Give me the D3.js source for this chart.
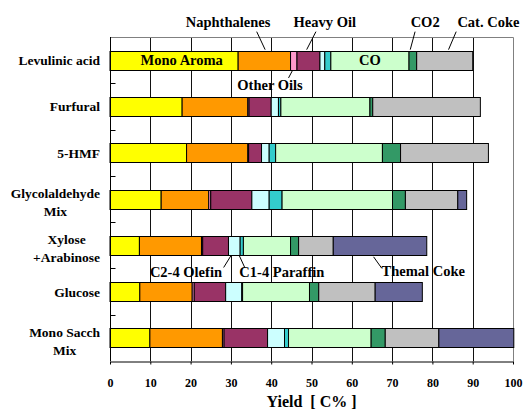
<!DOCTYPE html>
<html>
<head>
<meta charset="utf-8">
<script src="https://cdn.jsdelivr.net/npm/d3@7"></script>
<style>
  body { margin: 0; background: #fff; }
</style>
</head>
<body>
<figure style="margin:0"></figure>
<script>
const WIDTH = 526
const HEIGHT = 412
const FONT = "'Liberation Serif', 'DejaVu Serif', Tinos, 'Times New Roman', Times, serif"

// feedstocks, top to bottom
const categories = ['Levulinic acid', 'Furfural', '5-HMF', 'Glycolaldehyde\nMix', 'Xylose\n+Arabinose', 'Glucose', 'Mono Sacch\nMix']

// yields [C%] per product, one value per feedstock
const monoAroma = [31.8, 17.9, 19.0, 12.7, 7.3, 7.4, 9.9]
const naphthalenes = [13.0, 16.3, 15.2, 11.8, 15.4, 13.0, 18.0]
const otherOils = [1.6, 0.3, 0.2, 0.5, 0.3, 0.5, 0.4]
const heavyOil = [5.7, 5.5, 3.2, 10.2, 6.4, 7.8, 10.8]
const olefin = [1.2, 1.8, 1.9, 4.3, 2.9, 4.0, 4.2]
const paraffin = [1.5, 0.6, 1.6, 3.2, 0.8, 0.2, 1.0]
const co = [19.4, 22.1, 26.5, 27.4, 11.7, 16.6, 20.5]
const co2 = [1.9, 0.7, 4.5, 3.2, 2.0, 2.3, 3.5]
const catCoke = [13.9, 26.7, 21.8, 13.0, 8.6, 14.0, 13.3]
const thermalCoke = [0, 0, 0, 2.2, 23.2, 11.7, 18.6]

const xTicks = [0, 10, 20, 30, 40, 50, 60, 70, 80, 90, 100]

const products = [
  { key: 'monoAroma', values: monoAroma, color: '#ffff00' },
  { key: 'naphthalenes', values: naphthalenes, color: '#ff9900' },
  { key: 'otherOils', values: otherOils, color: '#ff99cc' },
  { key: 'heavyOil', values: heavyOil, color: '#993366' },
  { key: 'olefin', values: olefin, color: '#ccffff' },
  { key: 'paraffin', values: paraffin, color: '#33cccc' },
  { key: 'co', values: co, color: '#ccffcc' },
  { key: 'co2', values: co2, color: '#339966' },
  { key: 'catCoke', values: catCoke, color: '#c0c0c0' },
  { key: 'thermalCoke', values: thermalCoke, color: '#666699' }
]

// annotations: x in yield units, row = category index, dy = px offset from row centre
const notes = [
  { text: 'Naphthalenes', x: 29.3, row: 0, dy: -33, anchor: 'middle' },
  { text: 'Heavy Oil', x: 53.3, row: 0, dy: -33, anchor: 'middle' },
  { text: 'CO2', x: 78.2, row: 0, dy: -33, anchor: 'middle' },
  { text: 'Cat. Coke', x: 93.9, row: 0, dy: -33, anchor: 'middle' },
  { text: 'Mono Aroma', x: 17.8, row: 0, dy: 5, anchor: 'middle' },
  { text: 'CO', x: 64.5, row: 0, dy: 5, anchor: 'middle' },
  { text: 'Other Oils', x: 39.7, row: 0, dy: 30, anchor: 'middle' },
  { text: 'C2-4 Olefin', x: 9.9, row: 4, dy: 32, anchor: 'start' },
  { text: 'C1-4 Paraffin', x: 32.1, row: 4, dy: 32, anchor: 'start' },
  { text: 'Themal Coke', x: 67.4, row: 4, dy: 31, anchor: 'start' }
]
// leader lines: [x1, dy1, x2, dy2]
const leaders = [
  { row: 0, p: [36.4, -28.5, 38.5, -10.5] },
  { row: 0, p: [51.1, -28.5, 48.8, -10.5] },
  { row: 0, p: [75.7, -28.5, 74.5, -10.5] },
  { row: 0, p: [85.9, -28.5, 84.0, -10.5] },
  { row: 0, p: [45.3, 10.2, 44.3, 17.8] },
  { row: 4, p: [30.0, 10.5, 28.2, 22.2] },
  { row: 4, p: [32.1, 10.5, 33.5, 22.8] },
  { row: 4, p: [65.4, 11.5, 67.4, 22.8] }
]

const margin = { left: 110, right: 13, top: 37, bottom: 51 }

const x = d3.scaleLinear()
  .domain([0, 100])
  .range([margin.left, WIDTH - margin.right])

const y = d3.scaleBand()
  .domain(categories)
  .range([margin.top, HEIGHT - margin.bottom])
  .paddingInner(0.59)
  .paddingOuter(0.295)

const rowCenter = i => y(categories[i]) + y.bandwidth() / 2

const svg = d3.select('figure').append('svg')
  .attr('width', WIDTH)
  .attr('height', HEIGHT)
  .attr('font-family', FONT)
  .attr('font-weight', 'bold')
  .style('display', 'block')

const [y0, y1] = y.range()
const crisp = v => Math.round(v) + 0.5

// vertical gridlines
svg.append('g')
  .selectAll('line')
  .data(xTicks.filter(t => t > 0 && t < 100))
  .enter().append('line')
  .attr('x1', d => crisp(x(d)))
  .attr('x2', d => crisp(x(d)))
  .attr('y1', y0)
  .attr('y2', y1)
  .attr('stroke', '#111')

// plot frame (top / right)
svg.append('path')
  .attr('d', `M${crisp(x(0))},${crisp(y0)}H${crisp(x(100))}V${y1}`)
  .attr('fill', 'none')
  .attr('stroke', '#808080')

// stacked bars
const rows = categories.map((c, i) => {
  const r = { cat: c }
  products.forEach(p => { r[p.key] = p.values[i] })
  return r
})
const stacked = d3.stack().keys(products.map(p => p.key))(rows)

stacked.forEach((layer, k) => {
  svg.append('g')
    .attr('fill', products[k].color)
    .attr('stroke', '#000')
    .selectAll('rect')
    .data(layer.filter(d => d[1] - d[0] > 0))
    .enter().append('rect')
    .attr('x', d => x(d[0]))
    .attr('width', d => x(d[1]) - x(d[0]))
    .attr('y', d => Math.round(y(d.data.cat)) + 0.5)
    .attr('height', Math.round(y.bandwidth()))
})

// bottom axis
const xAxis = svg.append('g')
  .attr('transform', `translate(0,${crisp(y1)})`)
  .call(d3.axisBottom(x).tickValues(xTicks).tickSize(3).tickPadding(13.5).tickSizeOuter(0))
  .attr('font-family', FONT)
  .attr('font-size', 12)
xAxis.select('.domain').attr('stroke', '#000')
xAxis.selectAll('.tick line').attr('stroke', '#000')
xAxis.selectAll('text').attr('fill', '#000')

// left axis line with inward ticks at band boundaries
svg.append('line')
  .attr('x1', crisp(x(0))).attr('x2', crisp(x(0)))
  .attr('y1', y0).attr('y2', y1)
  .attr('stroke', '#000')
svg.append('g')
  .selectAll('line')
  .data(d3.range(1, categories.length))
  .enter().append('line')
  .attr('x1', crisp(x(0)))
  .attr('x2', crisp(x(0)) + 5)
  .attr('y1', d => crisp(y0 + d * y.step()))
  .attr('y2', d => crisp(y0 + d * y.step()))
  .attr('stroke', '#000')

// category labels
const catLabels = svg.append('g')
  .attr('font-size', 13.5)
  .attr('fill', '#000')
categories.forEach((c, i) => {
  const lines = c.split('\n')
  const t = catLabels.append('text').attr('text-anchor', 'middle')
  const spans = lines.map((l, j) => t.append('tspan').text(l)
    .attr('y', rowCenter(i) + 5 + (j - (lines.length - 1) / 2) * 18 + (lines.length > 1 ? 3 : 0)))
  const w = d3.max(spans, s => s.node().getComputedTextLength())
  spans.forEach(s => s.attr('x', 100 - w / 2))
})

// annotations
svg.append('g')
  .attr('stroke', '#000')
  .selectAll('line')
  .data(leaders)
  .enter().append('line')
  .attr('x1', d => x(d.p[0]))
  .attr('y1', d => rowCenter(d.row) + d.p[1])
  .attr('x2', d => x(d.p[2]))
  .attr('y2', d => rowCenter(d.row) + d.p[3])

svg.append('g')
  .attr('font-size', 14.5)
  .selectAll('text')
  .data(notes)
  .enter().append('text')
  .attr('x', d => x(d.x))
  .attr('y', d => rowCenter(d.row) + d.dy)
  .attr('text-anchor', d => d.anchor)
  .text(d => d.text)

// axis title
svg.append('text')
  .attr('x', x(50))
  .attr('y', 407)
  .attr('text-anchor', 'middle')
  .attr('font-size', 16)
  .attr('xml:space', 'preserve')
  .text('Yield  [ C% ]')
</script>
</body>
</html>
